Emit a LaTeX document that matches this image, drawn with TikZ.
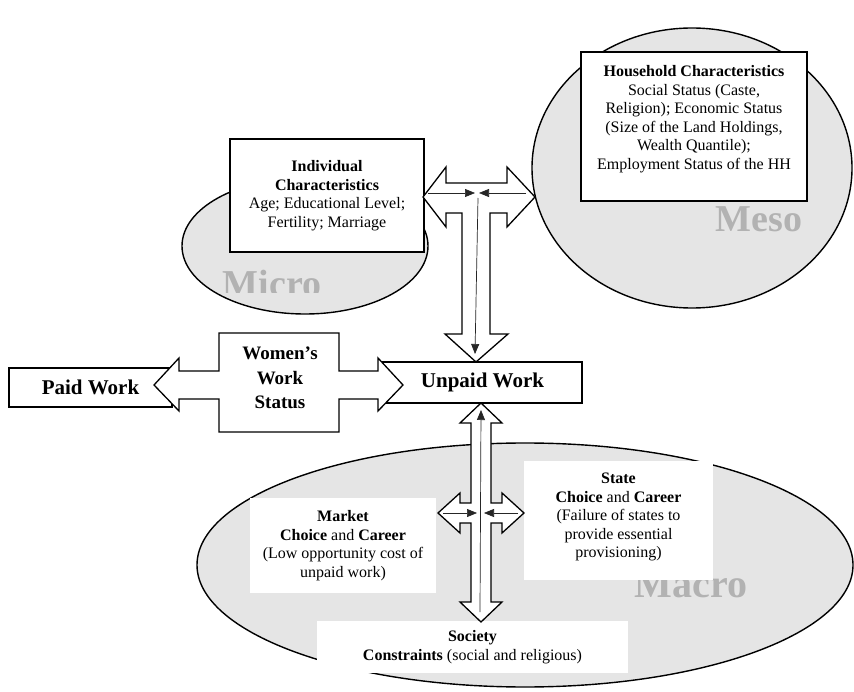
\documentclass[tikz,border=0pt]{standalone}
\usepackage{fontspec}
\setmainfont{Liberation Serif}
\usepackage{tikz}
\usetikzlibrary{calc}
\usetikzlibrary{positioning}
\usetikzlibrary{shapes.geometric}
\usetikzlibrary{arrows.meta}
\definecolor{levelfill}{gray}{0.9}
\definecolor{levelgray}{gray}{0.7}
\tikzstyle{levelnode} = [draw, ellipse, fill=levelfill, line width=1.4pt, inner sep=0pt]
\tikzstyle{levellabel} = [text=levelgray, font=\fontsize{38}{38}\selectfont\bfseries, anchor=base, inner sep=0pt]
\tikzstyle{charnode} = [draw, rectangle, fill=white, line width=1.3pt, align=center, font=\fontsize{16}{18.5}\selectfont, inner sep=0pt]
\tikzstyle{factornode} = [rectangle, fill=white, align=center, font=\fontsize{16}{18.5}\selectfont, inner sep=0pt]
\tikzstyle{worknode} = [draw, rectangle, fill=white, line width=1.3pt, font=\fontsize{21}{24}\selectfont\bfseries, inner sep=0pt]
\tikzstyle{bigarrow} = [draw, fill=white, line width=1.3pt, line join=miter]
\tikzstyle{thinarrow} = [draw=black!85, line width=0.7pt, -{Triangle[length=10pt,width=8pt]}]

\begin{document}
\begin{tikzpicture}[x=1pt, y=-1pt]
    \useasboundingbox (0,0) rectangle (854,692);
    % levels
    \node[levelnode, minimum width=246, minimum height=136] (micro) at (305,246) {};
    \node[levelnode, minimum width=320, minimum height=280] (meso) at (692,168) {};
    \node[levelnode, minimum width=656, minimum height=244] (macro) at (525,565) {};
    \begin{scope}
        \clip (200,255) rectangle (360,293);
        \node[levellabel] (micro_label) at (272,297) {Micro};
    \end{scope}
    \node[levellabel] (meso_label) at (759,232) {Meso};
    \node[levellabel, font=\fontsize{40}{40}\selectfont\bfseries] (macro_label) at (691,597) {Macro};
    % characteristics
    \node[charnode, minimum width=194, minimum height=113] (indiv_box) at ($(micro)+(22,-50.5)$) {%
        \textbf{Individual}\\ \textbf{Characteristics}\\ Age; Educational Level;\\ Fertility; Marriage};
    \node[charnode, minimum width=226, minimum height=149] (hh_box) at ($(meso)+(2,-41.5)$) {%
        \textbf{Household Characteristics}\\ Social Status (Caste,\\ Religion); Economic Status\\
        (Size of the Land Holdings,\\ Wealth Quantile);\\ Employment Status of the HH\\ \mbox{}};
    \node[factornode, minimum width=186, minimum height=95] (market_box) at (343,545.5) {%
        \textbf{Market}\\ \textbf{Choice} and \textbf{Career}\\ (Low opportunity cost of\\ unpaid work)};
    \node[factornode, minimum width=189, minimum height=119] (state_box) at (618.5,520.5) {%
        \textbf{State}\\ \textbf{Choice} and \textbf{Career}\\ (Failure of states to\\ provide essential\\ provisioning)\\[-8.5pt] \mbox{}};
    \node[factornode, minimum width=311, minimum height=52] (society_box) at (472.5,647) {%
        \textbf{Society}\\ \textbf{Constraints} (social and religious)};
    % work
    \node[worknode, minimum width=163, minimum height=39] (paid) at (90.5,387.5) {Paid Work};
    \node[worknode, minimum width=199, minimum height=41] (unpaid) at (482.5,382.5) {Unpaid Work};
    % block arrows
    \draw[bigarrow] (423,197) -- (446,167) -- (446,183) -- (507,183) -- (507,167) -- (535,197)
        -- (507,227) -- (507,213) -- (490,213) -- (490,334) -- (508,334) -- (476,362)
        -- (445,334) -- (462,334) -- (462,213) -- (446,213) -- (446,227) -- cycle;
    \draw[bigarrow] (219,333) -- (339,333) -- (339,371) -- (378,371) -- (378,358) -- (403,385)
        -- (378,411) -- (378,399) -- (339,399) -- (339,432) -- (219,432) -- (219,399)
        -- (179,399) -- (179,411) -- (154,385) -- (179,358) -- (179,371) -- (219,371) -- cycle;
    \draw[bigarrow] (481,403) -- (502,423) -- (491,423) -- (491,503) -- (502,503) -- (502,493)
        -- (524,513) -- (502,533) -- (502,523) -- (491,523) -- (491,602) -- (502,602)
        -- (481,622) -- (460,602) -- (471,602) -- (471,523) -- (460,523) -- (460,533)
        -- (438,513) -- (460,493) -- (460,503) -- (471,503) -- (471,423) -- (460,423) -- cycle;
    \node[font=\fontsize{19}{24.5}\selectfont\bfseries, align=center, inner sep=0pt] (women_status) at (280,378) {Women's\\ Work\\ Status};
    % thin arrows
    \coordinate (top_w) at (428,193);
    \coordinate (top_wtip) at (475,193);
    \coordinate (top_e) at (526,193);
    \coordinate (top_etip) at (479,193);
    \coordinate (top_n) at (478,198);
    \coordinate (top_stip) at (475,354);
    \coordinate (bot_w) at (443,513);
    \coordinate (bot_wtip) at (477,513);
    \coordinate (bot_e) at (518,513);
    \coordinate (bot_etip) at (484,513);
    \coordinate (bot_s) at (480,612);
    \coordinate (bot_ntip) at (481,410);
    \draw[thinarrow] (top_w) -- (top_wtip);
    \draw[thinarrow] (top_e) -- (top_etip);
    \draw[thinarrow] (top_n) -- (top_stip);
    \draw[thinarrow] (bot_w) -- (bot_wtip);
    \draw[thinarrow] (bot_e) -- (bot_etip);
    \draw[thinarrow] (bot_s) -- (bot_ntip);
\end{tikzpicture}
\end{document}
